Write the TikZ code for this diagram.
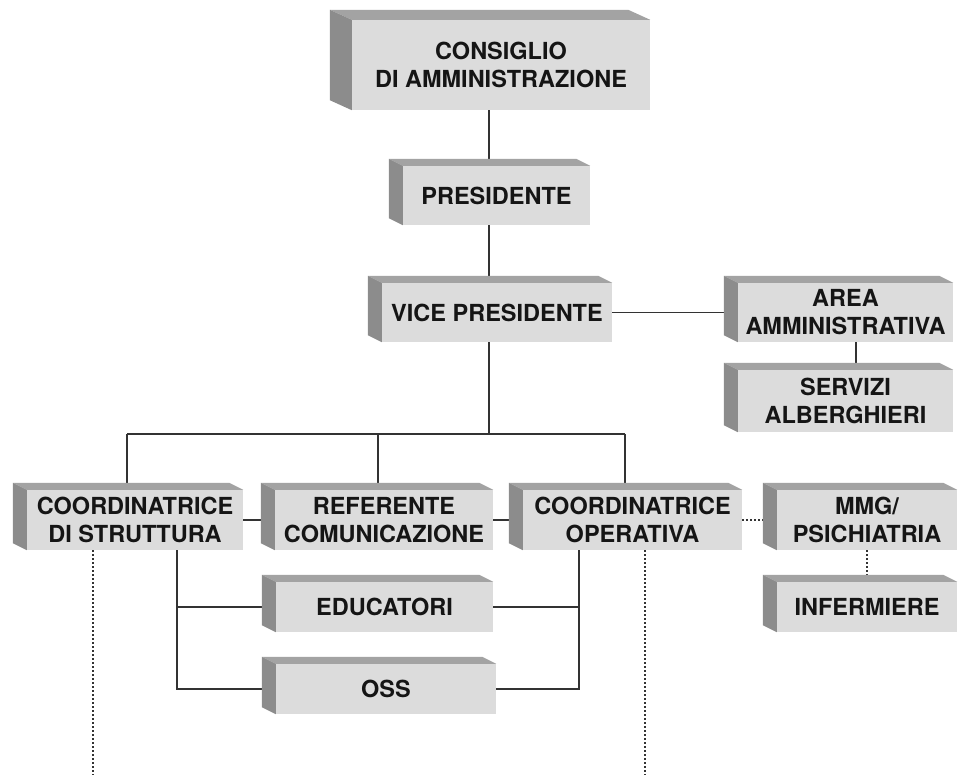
\documentclass[tikz,border=0pt]{standalone}
\usepackage{fontspec}
\setmainfont{TeX Gyre Heros}
\definecolor{facegray}{HTML}{DCDCDC}
\definecolor{topgray}{HTML}{A3A3A3}
\definecolor{sidegray}{HTML}{8C8C8C}
\definecolor{linegray}{HTML}{333333}
\definecolor{textgray}{HTML}{151515}
\tikzset{
  orgbox/.style={rectangle,fill=facegray,inner sep=0pt,align=center,text=textgray,
    font=\fontsize{23.5}{28}\selectfont\bfseries},
  link/.style={draw=linegray,line width=1.2pt},
  dotlink/.style={draw=linegray,line width=1.6pt,dash pattern=on 2pt off 2pt},
}

\begin{document}
\begin{tikzpicture}[x=1pt,y=-1pt]
  \useasboundingbox (0,0) rectangle (959,775);
  \pgfmathsetmacro\dx{14}
  \pgfmathsetmacro\dy{7}

% board and presidency
  \node[orgbox,minimum width=298pt,minimum height=90pt] (cda) at (501,65) {CONSIGLIO\\DI AMMINISTRAZIONE};
  \node[orgbox,minimum width=187pt,minimum height=59pt] (pres) at (496.5,195.5) {PRESIDENTE};
  \node[orgbox,minimum width=230pt,minimum height=59pt] (vp) at (497,312.5) {VICE PRESIDENTE};

% administration
  \node[orgbox,minimum width=215pt,minimum height=59pt] (aa) at (845.5,312.5) {AREA\\AMMINISTRATIVA};
  \node[orgbox,minimum width=215pt,minimum height=62pt] (sa) at (845.5,401) {SERVIZI\\ALBERGHIERI};

% coordination row
  \node[orgbox,minimum width=216pt,minimum height=60pt] (cs) at (135,520) {COORDINATRICE\\DI STRUTTURA};
  \node[orgbox,minimum width=218pt,minimum height=60pt] (rc) at (384,520) {REFERENTE\\COMUNICAZIONE};
  \node[orgbox,minimum width=219pt,minimum height=60pt] (co) at (632.5,520) {COORDINATRICE\\OPERATIVA};
  \node[orgbox,minimum width=180pt,minimum height=60pt] (mmg) at (867,520) {MMG/\\PSICHIATRIA};
  \node[orgbox,minimum width=180pt,minimum height=50pt] (inf) at (867,607) {INFERMIERE};

% staff
  \node[orgbox,minimum width=217pt,minimum height=50pt] (edu) at (384.5,607) {EDUCATORI};
  \node[orgbox,minimum width=220pt,minimum height=50pt] (oss) at (386,689) {OSS};

% helper points
  \coordinate (spine) at (489,0);
  \coordinate (aadrop) at (856,0);
  \coordinate (busl) at (127,434);
  \coordinate (busm) at (378,434);
  \coordinate (busr) at (625,434);
  \coordinate (csdrop) at (177,0);
  \coordinate (codrop) at (579,0);
  \coordinate (csend) at (93,775);
  \coordinate (coend) at (645,775);

% solid links
  \draw[link] (cda.south -| spine) -- (pres.north -| spine);
  \draw[link] (pres.south -| spine) -- (vp.north -| spine);
  \draw[link] (vp.south -| spine) -- (busl -| spine);
  \draw[link] (vp.east) -- (vp.east -| aa.west);
  \draw[link] (aa.south -| aadrop) -- (sa.north -| aadrop);
  \draw[link] (busl) -- (busr);
  \draw[link] (busl) -- (busl |- cs.north);
  \draw[link] (busm) -- (busm |- rc.north);
  \draw[link] (busr) -- (busr |- co.north);
  \draw[link] (cs.east) -- (rc.west);
  \draw[link] (rc.east) -- (co.west);
  \draw[link] (cs.south -| csdrop) |- (oss.west);
  \draw[link] (edu.west) -- (edu.west -| csdrop);
  \draw[link] (co.south -| codrop) |- (oss.east);
  \draw[link] (edu.east) -- (edu.east -| codrop);

% dotted links
  \draw[dotlink] (co.east) -- (mmg.west);
  \draw[dotlink] (mmg.south) -- (inf.north);
  \draw[dotlink] (cs.south -| csend) -- (csend);
  \draw[dotlink] (co.south -| coend) -- (coend);

% box sides
  \fill[topgray] (cda.north west) -- ++(-22,-10) -- ([shift={(-22,-10)}]cda.north east) -- (cda.north east) -- cycle;
  \fill[sidegray] (cda.north west) -- ++(-22,-10) -- ([shift={(-22,-10)}]cda.south west) -- (cda.south west) -- cycle;
  \foreach \n in {pres,vp,aa,sa,cs,rc,co,mmg,inf,edu,oss} {
    \fill[topgray] (\n.north west) -- ++(-\dx,-\dy) -- ([shift={(-\dx,-\dy)}]\n.north east) -- (\n.north east) -- cycle;
    \fill[sidegray] (\n.north west) -- ++(-\dx,-\dy) -- ([shift={(-\dx,-\dy)}]\n.south west) -- (\n.south west) -- cycle;
  }

\end{tikzpicture}
\end{document}
